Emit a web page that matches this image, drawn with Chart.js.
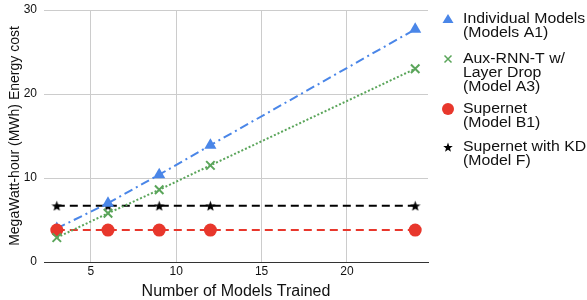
<!DOCTYPE html>
<html>
<head>
<meta charset="utf-8">
<script src="https://cdn.jsdelivr.net/npm/chart.js@4.4.1/dist/chart.umd.min.js"></script>
<style>
  html, body { margin: 0; padding: 0; background: #fff; }
  #wrap { width: 587px; height: 300px; }
</style>
</head>
<body>
<div id="wrap"><canvas id="chart" width="587" height="300"></canvas></div>
<script>
// Chart data
const modelsTrained = [3, 6, 9, 12, 24];
const individualA1 = [4.0, 7.0, 10.4, 13.9, 27.7];
const auxRnntA3 = [2.9, 5.8, 8.6, 11.5, 23.0];
const supernetB1 = [3.8, 3.8, 3.8, 3.8, 3.8];
const supernetKdF = [6.7, 6.7, 6.7, 6.7, 6.7];
const xTicks = [5, 10, 15, 20];
const yTicks = [0, 10, 20, 30];
const legendLabels = [
  ['Individual Models', '(Models A1)'],
  ['Aux-RNN-T w/', 'Layer Drop', '(Model A3)'],
  ['Supernet', '(Model B1)'],
  ['Supernet with KD', '(Model F)']
];

const FONT = "'Liberation Sans', Arial, sans-serif";
const TEXT = '#111';
const BLUE = '#4a86e8';
const GREEN = '#5aa55a';
const RED = '#e8372c';
const BLACK = '#000000';

// Filled five point star used as a marker
function makeStar(size, color) {
  const c = document.createElement('canvas');
  c.width = size;
  c.height = size;
  const g = c.getContext('2d');
  const r = size / 2, ri = r * 0.42;
  g.fillStyle = color;
  g.beginPath();
  for (let i = 0; i < 10; i++) {
    const rad = i % 2 === 0 ? r : ri;
    const a = -Math.PI / 2 + i * Math.PI / 5;
    const px = r + rad * Math.cos(a), py = r + 0.6 + rad * Math.sin(a);
    i === 0 ? g.moveTo(px, py) : g.lineTo(px, py);
  }
  g.closePath();
  g.fill();
  return c;
}
const starPlot = makeStar(11, BLACK);
const starLegend = makeStar(10, BLACK);

const toPoints = ys => modelsTrained.map((x, i) => ({ x: x, y: ys[i] }));

// Legend drawn at the right of the plot, with multi-line labels
const sideLegend = {
  id: 'sideLegend',
  afterDraw(chart) {
    const ctx = chart.ctx;
    const mx = 448, tx = 463, lh = 14;
    const tops = [19, 59, 109, 147];
    ctx.save();
    legendLabels.forEach((lines, i) => {
      const y = tops[i];
      ctx.save();
      ctx.font = '14px ' + FONT;
      ctx.fillStyle = TEXT;
      ctx.textBaseline = 'middle';
      ctx.translate(tx, 0);
      ctx.scale(1.13, 1);
      lines.forEach((t, j) => ctx.fillText(t, 0, y + j * lh));
      ctx.restore();
      if (i === 0) {
        ctx.fillStyle = BLUE;
        ctx.beginPath();
        ctx.moveTo(mx, y - 5);
        ctx.lineTo(mx + 5.5, y + 4);
        ctx.lineTo(mx - 5.5, y + 4);
        ctx.closePath();
        ctx.fill();
      } else if (i === 1) {
        ctx.strokeStyle = GREEN;
        ctx.lineWidth = 1.5;
        ctx.beginPath();
        ctx.moveTo(mx - 3.5, y - 3.5); ctx.lineTo(mx + 3.5, y + 3.5);
        ctx.moveTo(mx + 3.5, y - 3.5); ctx.lineTo(mx - 3.5, y + 3.5);
        ctx.stroke();
      } else if (i === 2) {
        ctx.fillStyle = RED;
        ctx.beginPath();
        ctx.arc(mx, y, 6, 0, Math.PI * 2);
        ctx.fill();
      } else {
        ctx.drawImage(starLegend, mx - 5, y - 5);
      }
    });
    ctx.restore();
  }
};

new Chart(document.getElementById('chart'), {
  type: 'line',
  data: {
    datasets: [
      {
        label: legendLabels[2].join(' '),
        data: toPoints(supernetB1),
        borderColor: RED,
        backgroundColor: RED,
        borderWidth: 2,
        borderDash: [8, 5],
        pointStyle: 'circle',
        pointRadius: 6.5,
        pointBorderWidth: 0,
        order: 1
      },
      {
        label: legendLabels[0].join(' '),
        data: toPoints(individualA1),
        borderColor: BLUE,
        backgroundColor: BLUE,
        borderWidth: 2,
        borderDash: [9, 4, 2, 4],
        pointStyle: 'triangle',
        pointRadius: 7,
        pointBorderWidth: 0,
        order: 2
      },
      {
        label: legendLabels[1].join(' '),
        data: toPoints(auxRnntA3),
        borderColor: GREEN,
        backgroundColor: GREEN,
        borderWidth: 2,
        borderDash: [2, 2],
        pointStyle: 'crossRot',
        pointRadius: 6,
        pointBorderWidth: 2,
        order: 0
      },
      {
        label: legendLabels[3].join(' '),
        data: toPoints(supernetKdF),
        borderColor: BLACK,
        backgroundColor: BLACK,
        borderWidth: 2,
        borderDash: [8, 5],
        pointStyle: starPlot,
        order: 3
      }
    ]
  },
  options: {
    responsive: false,
    animation: false,
    devicePixelRatio: 1,
    layout: { padding: { top: 10, right: 159, left: 0, bottom: 0 } },
    plugins: {
      legend: { display: false },
      tooltip: { enabled: false }
    },
    scales: {
      x: {
        type: 'linear',
        min: 2.25,
        max: 24.75,
        afterBuildTicks: s => { s.ticks = xTicks.map(v => ({ value: v })); },
        afterFit: s => { s.height = 38; s.paddingLeft = 0; s.paddingRight = 0; },
        grid: { color: '#cccccc', drawTicks: false },
        border: { display: true, color: '#333333', width: 1 },
        ticks: { font: { family: FONT, size: 12 }, color: TEXT, padding: 2, maxRotation: 0 },
        title: {
          display: true,
          text: 'Number of Models Trained',
          font: { family: FONT, size: 16 },
          color: TEXT,
          padding: { top: 0, bottom: -1 }
        }
      },
      y: {
        min: 0,
        max: 30,
        afterBuildTicks: s => { s.ticks = yTicks.map(v => ({ value: v })); },
        afterFit: s => { s.width = 44; s.paddingTop = 0; s.paddingBottom = 0; },
        grid: {
          color: ctx => (ctx.tick && ctx.tick.value === 0 ? '#333333' : '#cccccc'),
          drawTicks: false
        },
        border: { display: false },
        ticks: { font: { family: FONT, size: 12 }, color: TEXT, padding: 7 },
        title: {
          display: true,
          text: 'MegaWatt-hour (MWh) Energy cost',
          font: { family: FONT, size: 14 },
          color: TEXT,
          padding: { top: 7, bottom: 0 }
        }
      }
    }
  },
  plugins: [sideLegend]
});
</script>
</body>
</html>
